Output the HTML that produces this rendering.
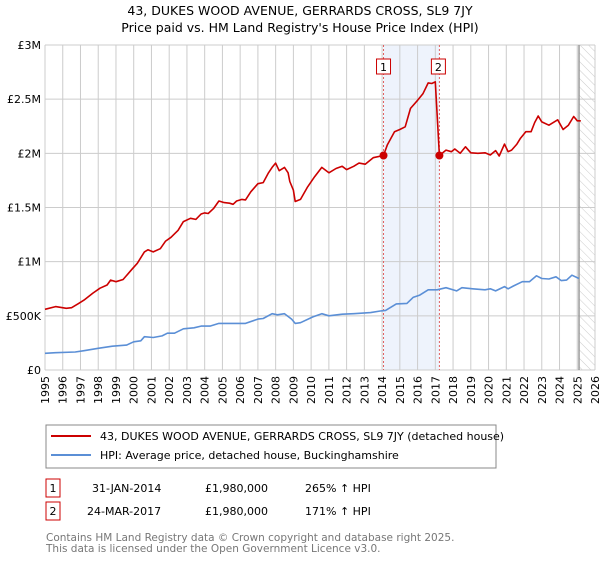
<!DOCTYPE html>
<html><head><meta charset="utf-8"><style>
body{margin:0;background:#fff;font-family:"Liberation Sans","DejaVu Sans",sans-serif;}
svg text{font-family:"DejaVu Sans","Liberation Sans",sans-serif;}
</style></head><body>
<svg id="c" width="600" height="560" xmlns="http://www.w3.org/2000/svg">
<defs><pattern id="hatch" width="6" height="6" patternUnits="userSpaceOnUse" patternTransform="rotate(-45)"><line x1="0" y1="0" x2="0" y2="6" stroke="#ccc" stroke-width="1"/></pattern></defs>
<text x="300" y="15" text-anchor="middle" font-size="12.5" fill="#000">43, DUKES WOOD AVENUE, GERRARDS CROSS, SL9 7JY</text>
<text x="300" y="32" text-anchor="middle" font-size="12.5" fill="#000">Price paid vs. HM Land Registry's House Price Index (HPI)</text>
<g id="grid"></g><g id="marks"></g><g id="axes"></g>
<rect x="46" y="425" width="450" height="43" fill="#fff" stroke="#888"/>
<line x1="51" y1="436" x2="91" y2="436" stroke="#cc0000" stroke-width="2"/>
<text x="100" y="440" font-size="11">43, DUKES WOOD AVENUE, GERRARDS CROSS, SL9 7JY (detached house)</text>
<line x1="51" y1="455" x2="91" y2="455" stroke="#5b8fd6" stroke-width="2"/>
<text x="100" y="459" font-size="11">HPI: Average price, detached house, Buckinghamshire</text>
<g font-size="11">
<rect x="46" y="479" width="14" height="18" fill="#fff" stroke="#cc0000"/><text x="53" y="492" text-anchor="middle">1</text>
<text x="92" y="492">31-JAN-2014</text><text x="205" y="492">£1,980,000</text><text x="305" y="492">265% ↑ HPI</text></g>
<g font-size="11">
<rect x="46" y="502" width="14" height="18" fill="#fff" stroke="#cc0000"/><text x="53" y="515" text-anchor="middle">2</text>
<text x="87" y="515">24-MAR-2017</text><text x="205" y="515">£1,980,000</text><text x="305" y="515">171% ↑ HPI</text></g>
<text x="46" y="541" font-size="10.5" fill="#777">Contains HM Land Registry data © Crown copyright and database right 2025.</text>
<text x="46" y="552" font-size="10.5" fill="#777">This data is licensed under the Open Government Licence v3.0.</text>
</svg>
<script>
const redYears=[1995.0,1995.6,1996.2,1996.5,1996.9,1997.2,1997.7,1998.1,1998.5,1998.7,1999.0,1999.4,1999.9,2000.2,2000.6,2000.8,2001.1,2001.5,2001.8,2002.1,2002.5,2002.8,2003.2,2003.5,2003.8,2004.0,2004.2,2004.5,2004.8,2005.1,2005.4,2005.6,2005.8,2006.1,2006.3,2006.6,2007.0,2007.3,2007.6,2007.8,2008.0,2008.2,2008.5,2008.7,2008.8,2009.0,2009.1,2009.4,2009.8,2010.2,2010.6,2011.0,2011.4,2011.75,2012.0,2012.4,2012.7,2013.05,2013.5,2014.08,2014.3,2014.7,2015.0,2015.3,2015.6,2016.0,2016.3,2016.6,2016.8,2017.0,2017.23,2017.6,2017.9,2018.1,2018.4,2018.7,2019.0,2019.4,2019.8,2020.1,2020.4,2020.6,2020.9,2021.1,2021.3,2021.6,2021.8,2022.1,2022.4,2022.6,2022.8,2023.0,2023.4,2023.9,2024.2,2024.5,2024.8,2025.0,2025.2];
const redValues=[0.56,0.585,0.57,0.575,0.615,0.645,0.71,0.755,0.785,0.83,0.815,0.835,0.93,0.985,1.09,1.11,1.09,1.12,1.19,1.225,1.29,1.37,1.40,1.39,1.44,1.45,1.445,1.49,1.56,1.545,1.54,1.53,1.56,1.575,1.57,1.645,1.72,1.73,1.82,1.87,1.91,1.84,1.87,1.82,1.74,1.66,1.555,1.575,1.69,1.785,1.87,1.82,1.86,1.88,1.85,1.88,1.91,1.90,1.96,1.98,2.08,2.2,2.22,2.245,2.415,2.49,2.55,2.65,2.645,2.66,1.98,2.03,2.015,2.04,2.0,2.06,2.005,2.0,2.005,1.985,2.025,1.975,2.085,2.015,2.03,2.085,2.14,2.2,2.2,2.285,2.345,2.29,2.26,2.31,2.22,2.26,2.34,2.3,2.3];
const hpiYears=[1995.0,1995.6,1996.7,1997.2,1998.0,1998.8,1999.6,2000.0,2000.4,2000.6,2001.1,2001.6,2001.9,2002.3,2002.8,2003.4,2003.8,2004.3,2004.8,2005.7,2006.3,2007.0,2007.3,2007.8,2008.1,2008.5,2008.9,2009.1,2009.4,2010.1,2010.6,2011.0,2011.75,2012.4,2013.35,2013.9,2014.2,2014.8,2015.4,2015.75,2016.1,2016.6,2017.1,2017.6,2018.2,2018.5,2019.1,2019.8,2020.1,2020.4,2020.9,2021.1,2021.4,2021.9,2022.3,2022.7,2023.0,2023.4,2023.8,2024.1,2024.4,2024.7,2025.1];
const hpiValues=[0.154,0.16,0.166,0.178,0.2,0.22,0.23,0.26,0.27,0.307,0.30,0.315,0.34,0.34,0.38,0.39,0.405,0.405,0.43,0.43,0.43,0.47,0.475,0.52,0.51,0.52,0.47,0.43,0.437,0.49,0.52,0.50,0.515,0.52,0.53,0.545,0.55,0.61,0.615,0.67,0.69,0.74,0.74,0.76,0.73,0.76,0.75,0.74,0.75,0.73,0.77,0.75,0.775,0.815,0.815,0.87,0.845,0.84,0.86,0.825,0.83,0.875,0.845];
const saleYears=[2014.08,2017.23];
const saleValues=[1.98,1.98];
const saleLabels=["1","2"];
const yTicks=[0,0.5,1,1.5,2,2.5,3];
const yTickLabels=["£0","£500K","£1M","£1.5M","£2M","£2.5M","£3M"];
const xTicks=[];for(let y=1995;y<=2026;y++)xTicks.push(y);
const dataEnd=2025.1;

const X0=45,X1=595,Y0=370,Y1=45;
const xs=y=>X0+(y-1995)/31*(X1-X0);
const ys=v=>Y0-v/3*(Y0-Y1);
const NS="http://www.w3.org/2000/svg";
function mk(tag,attrs,parent){const e=document.createElementNS(NS,tag);for(const k in attrs)e.setAttribute(k,attrs[k]);parent.appendChild(e);return e;}
const grid=document.getElementById('grid'),marks=document.getElementById('marks'),axes=document.getElementById('axes');
// shaded period
let r=mk('rect',{x:xs(saleYears[0]),y:Y1,width:xs(saleYears[1])-xs(saleYears[0]),height:Y0-Y1,fill:'#eef3fc'},grid);


xTicks.forEach(t=>{const l=mk('line',{x1:xs(t),x2:xs(t),y1:Y1,y2:Y0,stroke:'#ccc'},grid);


const tx=mk('text',{x:0,y:0,'font-size':11,'text-anchor':'end',transform:`translate(${xs(t)+4},${Y0+6}) rotate(-90)`},axes);tx.textContent=t;

});
yTicks.forEach((t,i)=>{const l=mk('line',{x1:X0,x2:X1,y1:ys(t),y2:ys(t),stroke:'#ccc'},grid);


const tx=mk('text',{x:X0-4,y:ys(t)+4,'font-size':11,'text-anchor':'end'},axes);tx.textContent=yTickLabels[i];

});
// future hatch
const h=mk('rect',{x:xs(dataEnd),y:Y1,width:X1-xs(dataEnd),height:Y0-Y1,fill:'url(#hatch)'},grid);


const hl=mk('line',{x1:xs(dataEnd),x2:xs(dataEnd),y1:Y1,y2:Y0,stroke:'#999','stroke-width':1.5},grid);


saleYears.forEach((s,i)=>{const l=mk('line',{x1:xs(s),x2:xs(s),y1:Y1,y2:Y0,stroke:'#e06060','stroke-dasharray':'2,2'},grid);

});
function path(xsA,vs,color,name){const d=xsA.map((y,i)=>(i?'L':'M')+xs(y).toFixed(1)+','+ys(vs[i]).toFixed(1)).join('');
const p=mk('path',{d,fill:'none',stroke:color,'stroke-width':1.6,'stroke-linejoin':'round'},marks);

}
path(hpiYears,hpiValues,'#5b8fd6','hpi-line');
path(redYears,redValues,'#cc0000','property-price-line');
saleYears.forEach((s,i)=>{const c=mk('circle',{cx:xs(s),cy:ys(saleValues[i]),r:4,fill:'#cc0000'},marks);


const b=mk('rect',{x:xs(s)-7-(i===0?0:1),y:59,width:14,height:15,fill:'#fff',stroke:'#cc0000'},marks);


const t=mk('text',{x:xs(s)-(i===0?0:1),y:71,'font-size':11,'text-anchor':'middle'},marks);t.textContent=saleLabels[i];

});
</script>
</body></html>
